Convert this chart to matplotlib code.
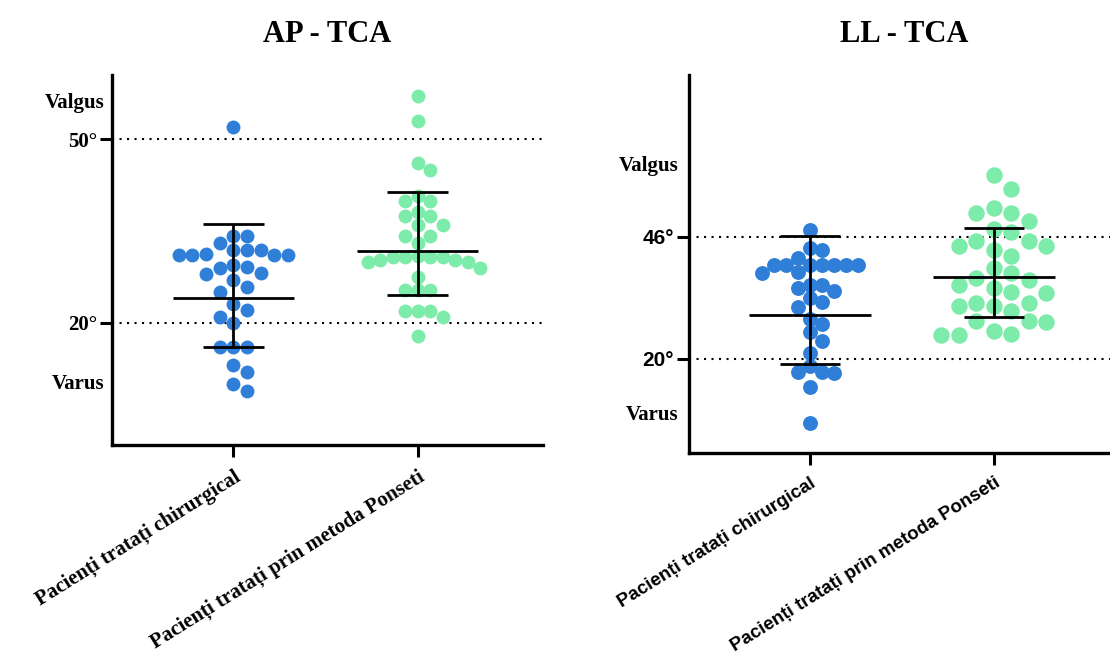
import numpy as np
import matplotlib
matplotlib.use('Agg')
import matplotlib.pyplot as plt

categories = ['Pacienți tratați chirurgical', 'Pacienți tratați prin metoda Ponseti']

# AP - TCA (degrees)
ap_chirurgical = [52.0, 34.1, 34.1, 33.0, 31.9, 31.9, 31.9, 31.3, 31.1, 31.1, 31.1, 31.1,
                  29.5, 29.1, 29.0, 28.1, 28.0, 27.0, 25.9, 25.0, 23.0, 22.1, 21.0, 19.9,
                  16.1, 16.1, 16.1, 13.0, 11.9, 10.0, 8.9]
ap_ponseti = [57.0, 53.0, 46.1, 45.0, 40.7, 39.9, 39.9, 38.1, 37.4, 37.4, 36.0, 36.0,
              34.1, 34.1, 33.0, 30.7, 30.7, 30.9, 30.2, 30.7, 30.0, 30.7, 30.0, 30.3,
              29.0, 27.5, 25.3, 25.3, 25.3, 21.9, 21.9, 21.9, 21.0, 17.9]
ap_center = [24.1, 31.8]
ap_lower = [16.1, 24.5]
ap_upper = [36.1, 41.4]

# LL - TCA (degrees)
ll_chirurgical = [47.4, 43.1, 43.6, 41.5, 40.1, 40.1, 40.1, 40.1, 40.1, 40.1, 40.1,
                  38.6, 38.3, 35.1, 35.8, 35.8, 33.0, 34.4, 32.2, 31.0, 28.5, 27.5,
                  25.8, 23.9, 21.2, 18.4, 17.3, 17.3, 17.0, 14.1, 6.3]
ll_ponseti = [59.1, 56.3, 52.2, 51.1, 51.1, 49.3, 47.0, 47.6, 45.1, 45.1, 44.0, 43.3,
              44.1, 42.0, 39.4, 38.3, 36.9, 37.2, 35.8, 34.2, 35.1, 34.0, 32.0, 31.2,
              31.2, 32.0, 30.1, 28.0, 27.8, 28.0, 25.3, 26.0, 25.1, 25.1]
ll_center = [29.4, 37.4]
ll_lower = [18.9, 29.0]
ll_upper = [46.1, 47.9]

ap_ref = [20, 50]
ap_ref_labels = ['20°', '50°']
ll_ref = [20, 46]
ll_ref_labels = ['20°', '46°']
side_labels = ['Varus', 'Valgus']
ap_side_pos = [10, 56]
ll_side_pos = [8, 61]

BLUE = '#2F7FD8'
GREEN = '#7DEBAA'
SERIF = 'Liberation Serif'
SANS = 'Liberation Sans'


def swarm_x(ax, center, values, step_px, min_px):
    tr = ax.transData
    vals = np.asarray(values, dtype=float)
    y_px = tr.transform(np.column_stack([np.full(len(vals), center), vals]))[:, 1]
    px_per_unit = tr.transform((1, 0))[0] - tr.transform((0, 0))[0]
    placed = []
    xs = np.zeros(len(vals))
    for i in np.argsort(-vals, kind='stable'):
        for k in [0, 1, -1, 2, -2, 3, -3, 4, -4, 5, -5, 6, -6, 7, -7]:
            dx = k * step_px
            if all(np.hypot(dx - px, y_px[i] - py) >= min_px for px, py in placed):
                break
        placed.append((dx, y_px[i]))
        xs[i] = center + dx / px_per_unit
    return xs


def panel(ax, title, groups, center, lower, upper, ref, ref_labels, side_pos,
          ylim, tick_family, xlab_family, xlab_size, side_x, sizes, steps):
    ax.set_xlim(-0.66, 1.68)
    ax.set_ylim(*ylim)
    for s in ['top', 'right']:
        ax.spines[s].set_visible(False)
    for s in ['left', 'bottom']:
        ax.spines[s].set_linewidth(2.4)

    for r in ref:
        ax.axhline(r, color='black', lw=1.5, ls=(0, (1, 2.6)), zorder=1)

    colors = [BLUE, GREEN]
    for i, vals in enumerate(groups):
        xs = swarm_x(ax, i, vals, steps[i], steps[i] * 0.97)
        ax.scatter(xs, vals, s=sizes[i], color=colors[i], linewidths=0, zorder=2)

    pos = np.arange(len(groups))
    ax.hlines(center, pos - 0.33, pos + 0.33, color='black', lw=2, zorder=3)
    ax.hlines(lower, pos - 0.165, pos + 0.165, color='black', lw=2, zorder=3)
    ax.hlines(upper, pos - 0.165, pos + 0.165, color='black', lw=2, zorder=3)
    ax.vlines(pos, lower, upper, color='black', lw=2, zorder=3)

    ax.set_yticks(ref, ref_labels, fontfamily=tick_family, fontweight='bold', fontsize=15)
    ax.set_xticks(pos, categories, fontfamily=xlab_family, fontweight='bold',
                  fontsize=xlab_size, rotation=32, ha='right', va='top',
                  rotation_mode='anchor')
    ax.tick_params(axis='both', length=8.6, width=2.2, pad=2)
    ax.tick_params(axis='x', pad=7)

    for lab, yv in zip(side_labels, side_pos):
        ax.text(side_x, yv, lab, transform=ax.get_yaxis_transform(), ha='right', va='center',
                fontfamily=SERIF, fontweight='bold', fontsize=15)

    ax.set_title(title, fontfamily=SERIF, fontweight='bold', fontsize=22, pad=24)


fig = plt.figure(figsize=(11.1, 6.55), dpi=100)
ax1 = fig.add_axes([111.7 / 1110, 1 - 445 / 655, (543 - 111.7) / 1110, (445 - 75) / 655])
ax2 = fig.add_axes([688.5 / 1110, 1 - 452.7 / 655, (1119 - 688.5) / 1110, (452.7 - 75) / 655])

panel(ax1, 'AP - TCA', [ap_chirurgical, ap_ponseti], ap_center, ap_lower, ap_upper,
      ap_ref, ap_ref_labels, ap_side_pos, (0, 60.5), SERIF, SERIF, 15, -0.016,
      sizes=[100, 100], steps=[13.7, 12.5])
panel(ax2, 'LL - TCA', [ll_chirurgical, ll_ponseti], ll_center, ll_lower, ll_upper,
      ll_ref, ll_ref_labels, ll_side_pos, (0, 80.5), SANS, SANS, 13.5, -0.023,
      sizes=[115, 140], steps=[12.0, 17.5])

fig.savefig('out.png', dpi=100)
